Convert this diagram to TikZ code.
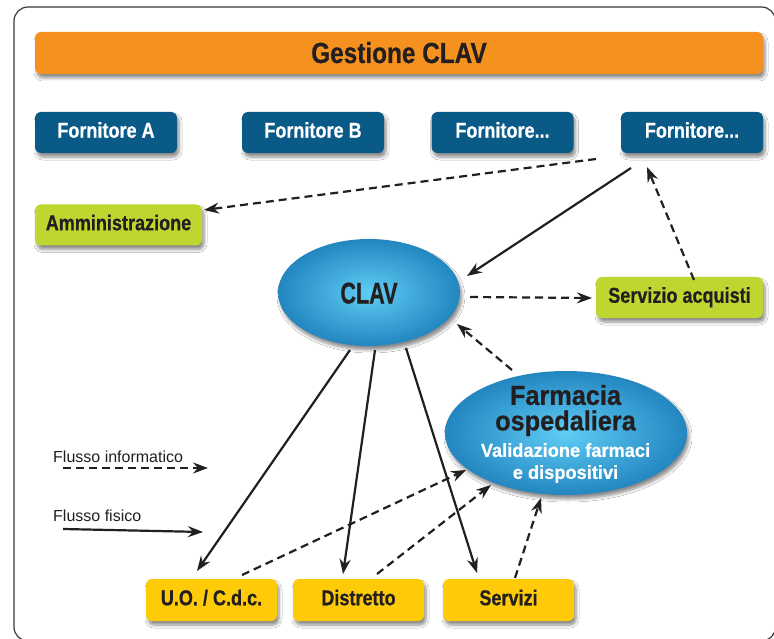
\documentclass[tikz,border=0pt]{standalone}
\usepackage{fontspec}
\setmainfont{Liberation Sans}
\newfontfamily\cnd{Liberation Sans}[FakeStretch=0.84,FakeBold=0.6]
\newfontfamily\cndw{Liberation Sans}[FakeStretch=0.92,FakeBold=0.6]
\newfontfamily\cndn{Liberation Sans}[FakeStretch=0.72,FakeBold=0.6]
\newfontfamily\cnds{Liberation Sans}[FakeStretch=0.96,FakeBold=0.4]
\usetikzlibrary{arrows.meta,shapes.geometric,shadows.blur}
\definecolor{ink}{HTML}{231F20}
\definecolor{frame}{HTML}{3A3A3A}
\definecolor{orangeb}{HTML}{F5921F}
\definecolor{fblue}{HTML}{0A5A87}
\definecolor{gfill}{HTML}{BFD630}
\definecolor{yfill}{HTML}{FFCB08}
\definecolor{elllight}{HTML}{5FCDF5}
\definecolor{ellmid}{HTML}{2386C0}
\definecolor{ellmd}{HTML}{14679B}
\definecolor{elldark}{HTML}{0C5587}
\pgfdeclareradialshading{ellshade}{\pgfpoint{0bp}{0bp}}{color(0bp)=(elllight); color(25bp)=(ellmid); color(42bp)=(ellmd); color(50bp)=(elldark)}
\tikzset{
  softshadow/.style={blur shadow={shadow xshift=2pt, shadow yshift=-4pt, shadow blur steps=6, shadow opacity=45, shadow blur radius=3pt}},
  boxbase/.style={rectangle, rounded corners=6pt, minimum height=41pt, inner sep=0pt,
    text height=15.5pt, text depth=5pt, softshadow,
    font=\fontsize{21.5}{24}\selectfont\cnd\bfseries},
  forn/.style={boxbase, fill=fblue, text=white, minimum width=142pt},
  gbox/.style={boxbase, fill=gfill, text=ink, minimum width=167pt},
  ybox/.style={boxbase, fill=yfill, text=ink, minimum width=131pt, minimum height=42pt},
  ell/.style={ellipse, inner sep=0pt, shading=ellshade, softshadow},
  flow/.style={line width=2.2pt, draw=ink, -{Stealth[length=15pt,width=11pt,inset=5pt]}},
  info/.style={flow, dash pattern=on 8pt off 5pt},
  legend/.style={inner sep=0pt, anchor=base west, text=ink, font=\fontsize{16}{18}\selectfont}
}
\begin{document}
\begin{tikzpicture}[x=1pt,y=-1pt]
\useasboundingbox (0,0) rectangle (774,639);
\fill[white] (0,0) rectangle (774,639);
\draw[frame, line width=1.2pt, rounded corners=14pt] (14,7) rectangle (775.5,641);

% title banner
\node[rectangle, rounded corners=6pt, fill=orangeb, minimum width=728pt, minimum height=42pt,
  inner sep=0pt, text=ink, text height=21pt, text depth=1pt, softshadow,
  font=\fontsize{29}{32}\selectfont\cnd\bfseries] (banner) at (399,53) {Gestione CLAV};

% suppliers
\node[forn] (f1) at (106,132.5) {Fornitore A};
\node[forn] (f2) at (313,132.5) {Fornitore B};
\node[forn] (f3) at (502.5,132.5) {Fornitore...};
\node[forn] (f4) at (692,132.5) {Fornitore...};

% green boxes
\node[gbox] (amm) at (118.5,225) {Amministrazione};
\node[gbox] (acq) at (679.5,297.5) {Servizio acquisti};

% ellipses
\node[ell, minimum width=182pt, minimum height=107pt, text=ink, text height=22pt, text depth=0pt,
  font=\fontsize{30}{32}\selectfont\cndn\bfseries] (clav) at (369,292.5) {CLAV};
\node[ell, minimum width=242pt, minimum height=124pt] (farm) at (566,433) {};
\node[inner sep=0pt, align=center, text=ink, font=\fontsize{27.5}{25.5}\selectfont\cndw\bfseries]
  (farmt) at (565.5,410.5) {Farmacia\\ospedaliera};
\node[inner sep=0pt, align=center, text=white, font=\fontsize{19}{22}\selectfont\cnds\bfseries]
  (farms) at (565.5,463) {Validazione farmaci\\e dispositivi};

% bottom boxes
\node[ybox] (uo) at (211.5,600) {U.O. / C.d.c.};
\node[ybox] (dis) at (358.5,600) {Distretto};
\node[ybox] (ser) at (508.5,600) {Servizi};

% legend
\node[legend] (lgi) at (53,462) {Flusso informatico};
\node[legend] (lgf) at (53,521) {Flusso fisico};
\coordinate (li1) at (63,468);
\coordinate (li2) at (208,468);
\coordinate (lf1) at (63,529);
\coordinate (lf2) at (203,532);
\draw[info] (li1) -- (li2);
\draw[flow] (lf1) -- (lf2);

% connectors
\draw[info] ([shift={(-96,26.5)}]f4.center) -- ([shift={(85.5,-15)}]amm.center);
\draw[flow] ([shift={(-61,35.5)}]f4.center) -- ([shift={(98,-16.5)}]clav.center);
\draw[info] ([shift={(14.5,-17.5)}]acq.center) -- ([shift={(-45,34.5)}]f4.center);
\draw[info] ([shift={(101,4.5)}]clav.center) -- ([shift={(-87.5,0.5)}]acq.center);
\draw[info] ([shift={(-54,-63)}]farm.center) -- ([shift={(88,31.5)}]clav.center);
\draw[flow] ([shift={(-19,57.5)}]clav.center) -- ([shift={(-14.5,-29)}]uo.center);
\draw[flow] ([shift={(6,57.5)}]clav.center) -- ([shift={(-15.5,-26)}]dis.center);
\draw[flow] ([shift={(37,55.5)}]clav.center) -- ([shift={(-31.5,-27)}]ser.center);
\draw[info] ([shift={(30.5,-25)}]uo.center) -- ([shift={(-100,37)}]farm.center);
\draw[info] ([shift={(18.5,-26)}]dis.center) -- ([shift={(-75,52)}]farm.center);
\draw[info] ([shift={(6.5,-22)}]ser.center) -- ([shift={(-25,65)}]farm.center);
\end{tikzpicture}
\end{document}
